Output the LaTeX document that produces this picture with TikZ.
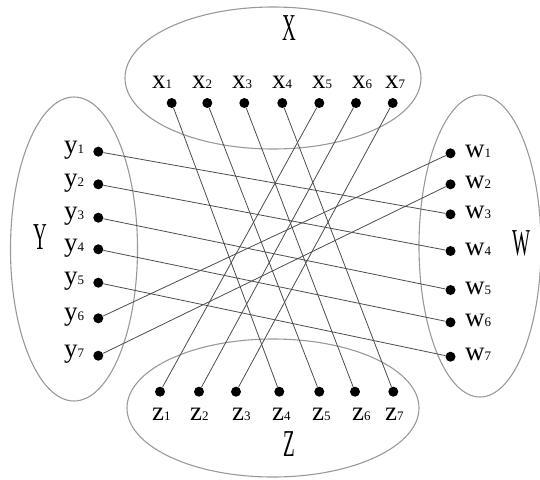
\documentclass[tikz,border=0pt]{standalone}
\usepackage{fontspec}
\setmainfont{Liberation Serif}
\usetikzlibrary{shapes.geometric}
\tikzset{
  dot/.style={circle,fill=black,inner sep=0pt,minimum size=10pt},
  lbl/.style={inner sep=0pt,font=\fontsize{27}{27}\selectfont},
  setname/.style={inner sep=0pt,font=\fontsize{38}{38}\selectfont,xscale=0.5},
  setshape/.style={ellipse,draw=black!40,line width=1.1pt,inner sep=0pt},
  link/.style={draw=black!70,line width=0.8pt}
}
\newcommand{\sub}[1]{{\fontsize{13}{13}\selectfont #1}}
\begin{document}
\begin{tikzpicture}[x=1pt,y=-1pt]
\useasboundingbox (0,0) rectangle (540,479);
% sets
\node[setshape,minimum width=296pt,minimum height=142pt] (ellX) at (273,78) {};
\node[setshape,minimum width=292pt,minimum height=138pt] (ellZ) at (273,408) {};
\node[setshape,minimum width=127pt,minimum height=304pt] (ellY) at (74,249) {};
\node[setshape,minimum width=122pt,minimum height=302pt] (ellW) at (480,246) {};
% set names
\node[setname] (nX) at (289,28) {X};
\node[setname] (nY) at (40,237) {Y};
\node[setname] (nW) at (521,243) {W};
\node[setname] (nZ) at (289,444) {Z};
% x dots and labels
\foreach \i/\dx/\lx in {1/171.7/152,2/207.3/192,3/244.3/232,4/282.3/272,5/319.3/312,6/356/352,7/392.7/385}{
  \node[dot] (x\i) at (\dx,103) {};
  \node[lbl,anchor=base west] (lx\i) at (\lx,88) {x\sub{\i}};
}
% z dots and labels
\foreach \i/\dx/\lx in {1/160/152,2/199/190,3/236/232,4/279.3/272,5/319.3/312,6/355/352,7/393.3/385}{
  \node[dot] (z\i) at (\dx,391.7) {};
  \node[lbl,anchor=base west] (lz\i) at (\lx,420) {z\sub{\i}};
}
% y dots and labels
\foreach \i/\dy in {1/151.7,2/184.3,3/217.7,4/249.3,5/282.7,6/318.3,7/355.7}{
  \node[dot] (y\i) at (98.3,\dy) {};
  \node[lbl,anchor=base west] (ly\i) at (64,\dy+2) {y\sub{\i}};
}
% w dots and labels
\foreach \i/\dy in {1/153.3,2/184.3,3/214.3,4/251,5/290,6/322.3,7/356.7}{
  \node[dot] (w\i) at (450.5,\dy) {};
  \node[lbl,anchor=base west] (lw\i) at (465,\dy+4) {w\sub{\i}};
}
% links
\foreach \a/\b in {x1/z4,x2/z5,x3/z6,x4/z7,x5/z1,x6/z2,x7/z3,
                   y1/w3,y2/w4,y3/w5,y4/w6,y5/w7,y6/w1,y7/w2}{
  \draw[link] (\a) -- (\b);
}
\end{tikzpicture}
\end{document}
